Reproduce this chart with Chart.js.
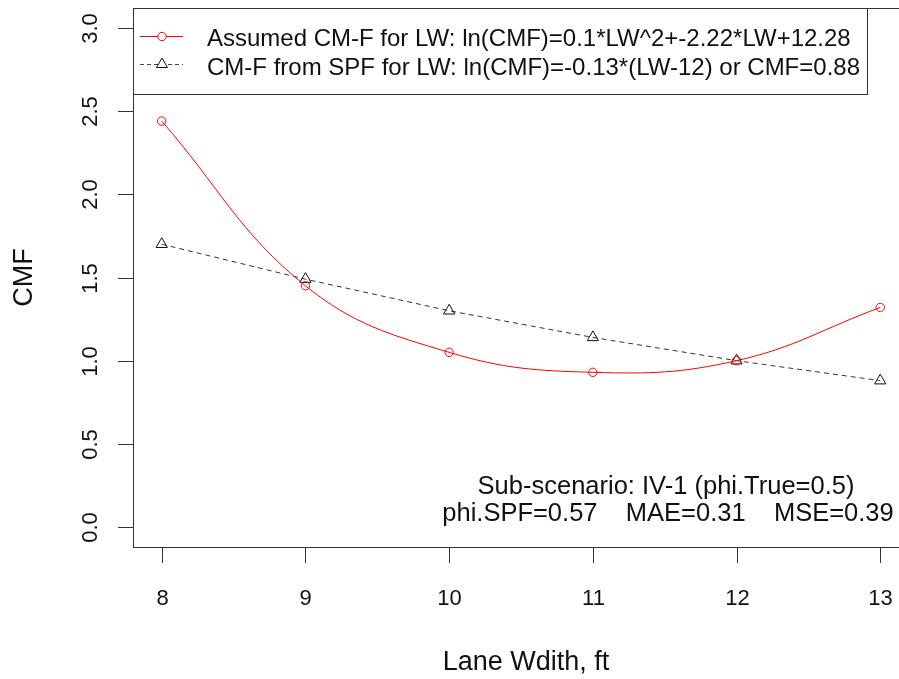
<!DOCTYPE html>
<html>
<head>
<meta charset="utf-8">
<script src="https://cdn.jsdelivr.net/npm/chart.js@4/dist/chart.umd.min.js"></script>
<style>
  html, body { margin: 0; padding: 0; background: #fff; overflow: hidden; }
  #wrap { width: 910px; height: 679px; }
</style>
</head>
<body>
<div id="wrap"><canvas id="cmfchart" width="910" height="679"></canvas></div>
<script>
// values
var laneWidth = [8, 9, 10, 11, 12, 13];
var assumedCmf = [2.44, 1.45, 1.05, 0.93, 1.00, 1.32];
var spfCmf = [1.70, 1.49, 1.30, 1.14, 1.00, 0.88];
var yTicks = [0, 0.5, 1, 1.5, 2, 2.5, 3];
var xTicks = [8, 9, 10, 11, 12, 13];
var legendLabels = [
  'Assumed CM-F for LW: ln(CMF)=0.1*LW^2+-2.22*LW+12.28',
  'CM-F from SPF for LW: ln(CMF)=-0.13*(LW-12) or CMF=0.88'
];
var noteLines = [
  'Sub-scenario: IV-1 (phi.True=0.5)',
  'phi.SPF=0.57    MAE=0.31    MSE=0.39'
];

var FONT = '"Liberation Sans", Arial, sans-serif';

// R-style box, axes, legend and text
var rPlot = {
  id: 'rPlot',
  afterDraw: function (chart) {
    var ctx = chart.ctx;
    var a = chart.chartArea;
    var xs = chart.scales.x, ys = chart.scales.y;
    ctx.save();
    ctx.strokeStyle = '#333';
    ctx.lineWidth = 1;
    ctx.strokeRect(Math.round(a.left) + 0.5, Math.round(a.top) + 0.5, a.right - a.left, a.bottom - a.top);

    ctx.fillStyle = '#111';
    ctx.font = '22px ' + FONT;
    // y ticks
    yTicks.forEach(function (v) {
      var y = Math.round(ys.getPixelForValue(v)) + 0.5;
      ctx.beginPath();
      ctx.moveTo(a.left, y);
      ctx.lineTo(a.left - 15, y);
      ctx.stroke();
      ctx.save();
      ctx.translate(97, y);
      ctx.rotate(-Math.PI / 2);
      ctx.textAlign = 'center';
      ctx.textBaseline = 'alphabetic';
      ctx.fillText(v.toFixed(1), 0, 0);
      ctx.restore();
    });
    // x ticks
    xTicks.forEach(function (v) {
      var x = Math.round(xs.getPixelForValue(v)) + 0.5;
      ctx.beginPath();
      ctx.moveTo(x, a.bottom);
      ctx.lineTo(x, a.bottom + 16);
      ctx.stroke();
      ctx.textAlign = 'center';
      ctx.textBaseline = 'alphabetic';
      ctx.fillText(String(v), x, 605);
    });
    // axis titles
    ctx.font = '27px ' + FONT;
    ctx.fillText('Lane Wdith, ft', (a.left + a.right) / 2 + 5, 670);
    ctx.save();
    ctx.translate(32, (a.top + a.bottom) / 2);
    ctx.rotate(-Math.PI / 2);
    ctx.fillText('CMF', 0, 0);
    ctx.restore();

    // annotation
    ctx.font = '25.5px ' + FONT;
    ctx.textAlign = 'center';
    ctx.fillText(noteLines[0], 666, 494);
    ctx.fillText(noteLines[1], 668, 521);

    // legend
    ctx.fillStyle = '#fff';
    ctx.fillRect(133, 8, 734, 86);
    ctx.strokeStyle = '#333';
    ctx.strokeRect(133.5, 8.5, 734, 86);
    ctx.font = '24px ' + FONT;
    ctx.textAlign = 'left';
    var rows = [36, 64];
    // red row
    ctx.strokeStyle = 'red';
    ctx.beginPath(); ctx.moveTo(140, rows[0] + 0.5); ctx.lineTo(183, rows[0] + 0.5); ctx.stroke();
    ctx.fillStyle = '#fff';
    ctx.beginPath(); ctx.arc(162, rows[0] + 0.5, 4.2, 0, Math.PI * 2); ctx.fill(); ctx.stroke();
    // black row
    ctx.strokeStyle = '#444';
    ctx.setLineDash([4, 3]);
    ctx.beginPath(); ctx.moveTo(140, rows[1] + 0.5); ctx.lineTo(183, rows[1] + 0.5); ctx.stroke();
    ctx.setLineDash([]);
    ctx.strokeStyle = '#111';
    ctx.beginPath();
    ctx.moveTo(162, rows[1] - 6); ctx.lineTo(167.5, rows[1] + 3.5); ctx.lineTo(156.5, rows[1] + 3.5); ctx.closePath();
    ctx.fill(); ctx.stroke();
    ctx.fillStyle = '#111';
    ctx.textBaseline = 'alphabetic';
    ctx.fillText(legendLabels[0], 207, 46);
    ctx.fillText(legendLabels[1], 207, 75);
    ctx.restore();
  }
};

var ctx = document.getElementById('cmfchart');
var myChart = new Chart(ctx, {
  type: 'line',
  data: {
    datasets: [{
      label: legendLabels[0],
      data: laneWidth.map(function (x, i) { return { x: x, y: assumedCmf[i] }; }),
      borderColor: 'red',
      borderWidth: 1,
      backgroundColor: 'rgba(0,0,0,0)',
      pointStyle: 'circle',
      pointRadius: 4.2,
      pointBorderColor: 'red',
      pointBackgroundColor: 'rgba(0,0,0,0)',
      tension: 0.4
    }, {
      label: legendLabels[1],
      data: laneWidth.map(function (x, i) { return { x: x, y: spfCmf[i] }; }),
      borderColor: '#333',
      borderWidth: 1,
      borderDash: [5, 4],
      backgroundColor: 'rgba(0,0,0,0)',
      pointStyle: 'triangle',
      pointRadius: 6.5,
      pointBorderColor: '#111',
      pointBackgroundColor: 'rgba(0,0,0,0)',
      tension: 0
    }]
  },
  options: {
    responsive: false,
    animation: false,
    events: [],
    layout: { autoPadding: false, padding: { left: 133, top: 8, right: 1, bottom: 132 } },
    scales: {
      x: { type: 'linear', min: 7.8, max: 13.2, display: false },
      y: { type: 'linear', min: -0.12, max: 3.12, display: false }
    },
    plugins: {
      legend: { display: false },
      tooltip: { enabled: false }
    }
  },
  plugins: [rPlot]
});
</script>
</body>
</html>
